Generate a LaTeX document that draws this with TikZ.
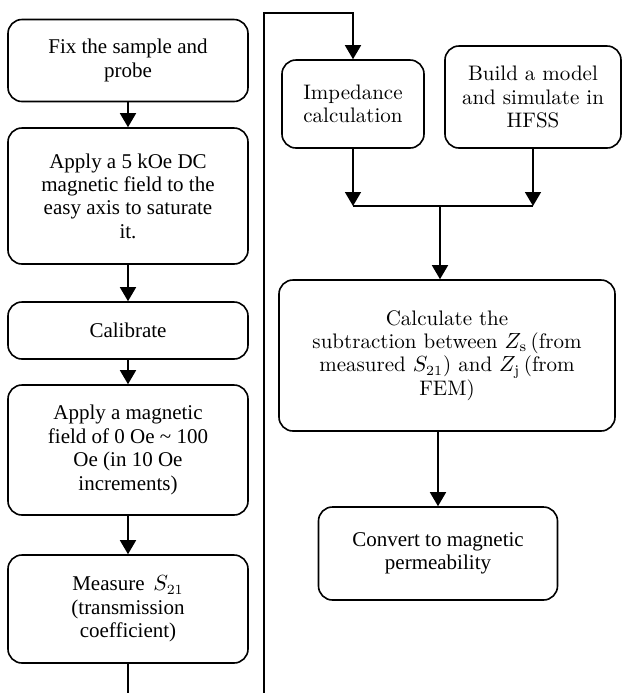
\documentclass[tikz,border=0pt]{standalone}
\usepackage{fontspec}
\newfontfamily\tnr{Liberation Serif}
\usetikzlibrary{arrows.meta}
\begin{document}
\begin{tikzpicture}[x=0.5pt, y=-0.5pt, % one unit per pixel, y downwards
    box/.style={draw, line width=0.8pt, rounded corners=7pt, align=center, inner sep=0pt},
    lbox/.style={box, font=\tnr\fontsize{10.5}{11.7}\selectfont},
    rbox/.style={box, font=\fontsize{10.5}{11.7}\selectfont},
    arr/.style={line width=0.8pt, -{Triangle[length=7pt,width=8pt]}},
    ln/.style={line width=0.8pt}]
    \useasboundingbox (0,0) rectangle (623,693);

    % left column
    \node[lbox, minimum width=120pt, minimum height=41pt] (fix) at (128,60.5) {Fix the sample and\\probe};
    \node[lbox, minimum width=120pt, minimum height=68pt] (satur) at (128,196) {Apply a 5 kOe DC\\magnetic field to the\\easy axis to saturate\\it.};
    \node[lbox, minimum width=120pt, minimum height=28.5pt] (calib) at (128,330.5) {Calibrate};
    \node[lbox, minimum width=120pt, minimum height=65pt] (field) at (128,450) {Apply a magnetic\\field of 0 Oe \textasciitilde{} 100\\Oe (in 10 Oe\\increments)};
    \node[lbox, minimum width=120pt, minimum height=54pt] (meas) at (128,609) {Measure \,$S_{21}$\\(transmission\\coefficient)};

    % right column
    \node[rbox, minimum width=71pt, minimum height=44pt] (imp) at (353,104) {Impedance\\calculation};
    \node[rbox, minimum width=88pt, minimum height=51pt] (hfss) at (533,97) {Build a model\\and simulate in\\HFSS};
    \node[rbox, minimum width=168pt, minimum height=75.5pt] (subtr) at (447,355.5) {Calculate the\\subtraction between $Z_{\mathrm{s}}$\,(from\\measured $S_{21}$) and $Z_{\mathrm{j}}$\,(from\\FEM)};
    \node[lbox, minimum width=119.5pt, minimum height=46.5pt] (conv) at (438,553.5) {Convert to magnetic\\permeability};

    \coordinate (lend) at (128,693);
    \coordinate (rend) at (264,693);
    \coordinate (rtop) at (264,13);
    \coordinate (join) at (440,206);

    \draw[arr] (fix) -- (satur);
    \draw[arr] (satur) -- (calib);
    \draw[arr] (calib) -- (field);
    \draw[arr] (field) -- (meas);
    \draw[ln] (meas) -- (lend);

    \draw[arr] (rend) -- (rtop) -| (imp);
    \draw[arr] (imp.south) -- (imp.south |- join);
    \draw[arr] (hfss.south) -- (hfss.south |- join);
    \draw[ln] (imp.south |- join) -- (hfss.south |- join);
    \draw[arr] (join) -- (join |- subtr.north);
    \draw[arr] (subtr.south -| conv.north) -- (conv.north);
\end{tikzpicture}
\end{document}
